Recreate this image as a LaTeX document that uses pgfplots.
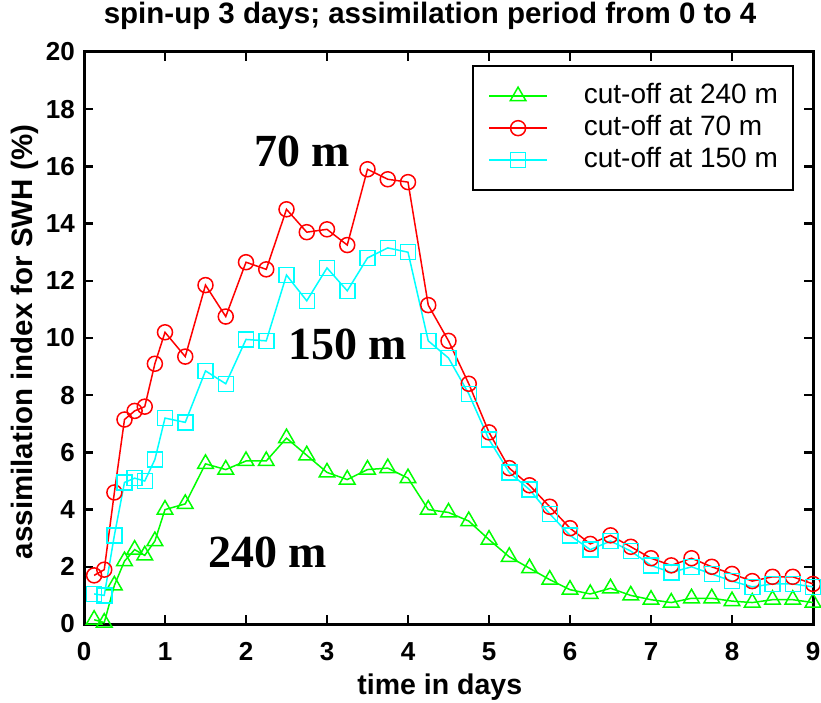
\documentclass[border=0pt]{standalone}
\usepackage{fontspec}
\setmainfont{Liberation Sans}
\newfontfamily\timesbf{Liberation Serif}
\usepackage{pgfplots}
\pgfplotsset{compat=1.18}

\definecolor{mlgreen}{RGB}{0,255,0}
\definecolor{mlred}{RGB}{255,0,0}
\definecolor{mlcyan}{RGB}{0,255,255}

\begin{document}
\begin{tikzpicture}
\path (0pt,0pt) rectangle (821pt,702pt);
\begin{axis}[
    at={(84pt,78pt)}, anchor=south west,
    scale only axis,
    width=729pt, height=572pt,
    xmin=0, xmax=9, ymin=0, ymax=20,
    xtick={0,1,...,9}, ytick={0,2,...,20},
    clip=false,
    axis line style={line width=3pt},
    major tick length=9pt,
    major tick style={line width=2.5pt, black},
    /pgf/number format/assume math mode=true,
    tick label style={font=\fontsize{26}{26}\selectfont\bfseries},
    xticklabel style={inner sep=0pt, anchor=north, yshift=-18pt},
    yticklabel style={inner sep=0pt, anchor=east, xshift=-9pt},
    title={spin-up 3 days; assimilation period from 0 to 4},
    title style={at={(axis description cs:0.4746,1.0385)}, anchor=base,
        inner sep=0pt, font=\fontsize{29.5}{29.5}\selectfont\bfseries},
    xlabel={time in days},
    xlabel style={at={(axis description cs:0.488,-0.1241)}, anchor=base,
        inner sep=0pt, font=\fontsize{28.5}{28.5}\selectfont\bfseries},
    ylabel={assimilation index for SWH (\%)},
    ylabel style={at={(axis description cs:-0.0700,0.493)}, anchor=base,
        inner sep=0pt, font=\fontsize{29.5}{29.5}\selectfont\bfseries},
    legend image code/.code={\draw[mark repeat=2,mark phase=2,#1]
        plot coordinates {(0pt,0pt) (29pt,0pt) (58pt,0pt)};},
    legend cell align=left,
    legend style={at={(axis description cs:1,1)}, anchor=north east,
        xshift=-19pt, yshift=-13pt, draw=black, line width=2.3pt,
        inner xsep=15pt, inner ysep=18pt, row sep=8pt,
        font=\fontsize{28}{28}\selectfont,
        nodes={inner sep=0pt, text height=19pt, text depth=5pt},
        /tikz/every odd column/.append style={column sep=36pt}},
]
\addplot[mlgreen, line width=1.5pt, mark=triangle, mark size=9pt,
    mark options={solid, line width=1.5pt}] coordinates {
    (0.125,0.15) (0.25,0.05) (0.375,1.35) (0.5,2.2) (0.625,2.6) (0.75,2.4)
    (0.875,2.9) (1,4.0) (1.25,4.2) (1.5,5.6) (1.75,5.4) (2,5.7) (2.25,5.7)
    (2.5,6.5) (2.75,5.9) (3,5.3) (3.25,5.05) (3.5,5.4) (3.75,5.45) (4,5.1)
    (4.25,4.0) (4.5,3.9) (4.75,3.6) (5,2.95) (5.25,2.35) (5.5,1.95)
    (5.75,1.55) (6,1.2) (6.25,1.05) (6.5,1.25) (6.75,1.0) (7,0.85)
    (7.25,0.75) (7.5,0.9) (7.75,0.9) (8,0.8) (8.25,0.75) (8.5,0.85)
    (8.75,0.85) (9,0.75)
};
\addlegendentry{cut-off at 240 m}
\addplot[mlred, line width=1.5pt, mark=o, mark size=7.5pt,
    mark options={solid, line width=1.5pt}] coordinates {
    (0.125,1.7) (0.25,1.9) (0.375,4.6) (0.5,7.15) (0.625,7.45) (0.75,7.6)
    (0.875,9.1) (1,10.2) (1.25,9.35) (1.5,11.85) (1.75,10.75) (2,12.65)
    (2.25,12.4) (2.5,14.5) (2.75,13.7) (3,13.8) (3.25,13.25) (3.5,15.9)
    (3.75,15.55) (4,15.45) (4.25,11.15) (4.5,9.9) (4.75,8.4) (5,6.7)
    (5.25,5.45) (5.5,4.85) (5.75,4.1) (6,3.35) (6.25,2.8) (6.5,3.1)
    (6.75,2.7) (7,2.3) (7.25,2.05) (7.5,2.3) (7.75,2.0) (8,1.75)
    (8.25,1.5) (8.5,1.65) (8.75,1.65) (9,1.4)
};
\addlegendentry{cut-off at 70 m}
\addplot[mlcyan, line width=1.5pt, mark=square, mark size=7.5pt,
    mark options={solid, line width=1.5pt}] coordinates {
    (0.125,1.05) (0.25,1.0) (0.375,3.1) (0.5,4.95) (0.625,5.1) (0.75,5.0)
    (0.875,5.75) (1,7.2) (1.25,7.05) (1.5,8.85) (1.75,8.4) (2,9.95)
    (2.25,9.9) (2.5,12.2) (2.75,11.3) (3,12.45) (3.25,11.65) (3.5,12.8)
    (3.75,13.15) (4,13.0) (4.25,9.9) (4.5,9.3) (4.75,8.05) (5,6.45)
    (5.25,5.3) (5.5,4.7) (5.75,3.85) (6,3.1) (6.25,2.6) (6.5,2.9)
    (6.75,2.55) (7,2.05) (7.25,1.8) (7.5,2.0) (7.75,1.75) (8,1.5)
    (8.25,1.3) (8.5,1.4) (8.75,1.4) (9,1.3)
};
\addlegendentry{cut-off at 150 m}

\node[anchor=base west, inner sep=0pt,
    font=\fontsize{46}{46}\selectfont\timesbf\bfseries] at (axis cs:2.10,16.0) {70 m};
\node[anchor=base west, inner sep=0pt,
    font=\fontsize{46}{46}\selectfont\timesbf\bfseries] at (axis cs:2.52,9.25) {150 m};
\node[anchor=base west, inner sep=0pt,
    font=\fontsize{46}{46}\selectfont\timesbf\bfseries] at (axis cs:1.53,1.97) {240 m};
\end{axis}
\end{tikzpicture}
\end{document}
